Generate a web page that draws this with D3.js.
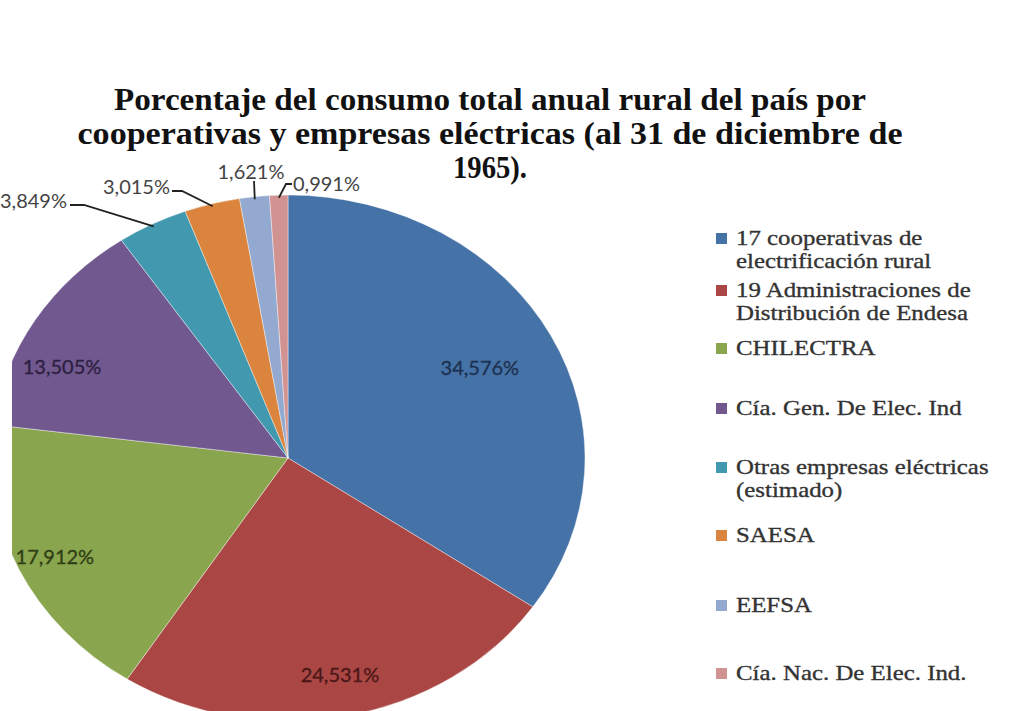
<!DOCTYPE html>
<html>
<head>
<meta charset="utf-8">
<script src="https://cdn.jsdelivr.net/npm/d3@7"></script>
<style>
  body { margin: 0; background: #fff; }
</style>
</head>
<body>
<div id="grafico"></div>
<script>
// Datos del gráfico
const categorias = [
  "17 cooperativas de electrificación rural",
  "19 Administraciones de Distribución de Endesa",
  "CHILECTRA",
  "Cía. Gen. De Elec. Ind",
  "Otras empresas eléctricas (estimado)",
  "SAESA",
  "EEFSA",
  "Cía. Nac. De Elec. Ind."
];
const porcentajes = [34.576, 24.531, 17.912, 13.505, 3.849, 3.015, 1.621, 0.991];
const lineasLeyenda = [
  ["17 cooperativas de", "electrificación rural"],
  ["19 Administraciones de", "Distribución de Endesa"],
  ["CHILECTRA"],
  ["Cía. Gen. De Elec. Ind"],
  ["Otras empresas eléctricas", "(estimado)"],
  ["SAESA"],
  ["EEFSA"],
  ["Cía. Nac. De Elec. Ind."]
];
const lineasTitulo = [
  "Porcentaje del consumo total anual rural del país por",
  "cooperativas y empresas eléctricas (al 31 de diciembre de",
  "1965)."
];

// Colores
const colores = ["#4572a7", "#aa4643", "#89a54e", "#71588f", "#4198af", "#db843d", "#93a9cf", "#d19392"];
const coloresTexto = ["#1d3150", "#4a1717", "#2f3d15", "#2c1f40"];

// Dimensiones
const ancho = 1035;
const alto = 711;
const centro = { x: 288, y: 458 };
const radioY = 263;
const radioX = 297;

const svg = d3.select("#grafico")
  .append("svg")
  .attr("width", ancho)
  .attr("height", alto);

// Título
svg.append("g")
  .selectAll("text")
  .data(lineasTitulo)
  .enter()
  .append("text")
  .attr("x", 490)
  .attr("y", (d, i) => 110 + i * 34)
  .attr("text-anchor", "middle")
  .attr("font-family", "'Liberation Serif', 'Times New Roman', serif")
  .attr("font-weight", "bold")
  .attr("font-size", "32px")
  .attr("fill", "#111")
  .attr("textLength", (d, i) => [752, 825, 74][i])
  .attr("lengthAdjust", "spacingAndGlyphs")
  .text(d => d);

// Torta
const torta = d3.pie().sort(null).value(d => d);
const arcos = torta(porcentajes);
const arco = d3.arc().innerRadius(0).outerRadius(radioY);

const grupoTorta = svg.append("g")
  .attr("transform", `translate(${centro.x},${centro.y}) scale(${radioX / radioY},1)`);

grupoTorta.selectAll("path")
  .data(arcos)
  .enter()
  .append("path")
  .attr("d", arco)
  .attr("fill", (d, i) => colores[i])
  .attr("stroke", "#fff")
  .attr("stroke-opacity", 0.5)
  .attr("stroke-width", 0.8)
  .attr("vector-effect", "non-scaling-stroke");

// Borde izquierdo recortado como en la imagen original
svg.append("rect")
  .attr("x", 0)
  .attr("y", 240)
  .attr("width", 12)
  .attr("height", alto - 240)
  .attr("fill", "#fff");

const formato = v => d3.format(".3f")(v).replace(".", ",") + "%";

// Punto sobre la elipse para un ángulo y radio relativo
const punto = (ang, r) => [
  centro.x + Math.sin(ang) * radioX * r,
  centro.y - Math.cos(ang) * radioY * r
];

// Etiquetas internas (posición relativa en la elipse)
const posInternas = [[0.646, -0.342], [0.175, 0.825], [-0.785, 0.376], [-0.761, -0.346]];
svg.append("g")
  .selectAll("text")
  .data(arcos.slice(0, 4))
  .enter()
  .append("text")
  .attr("x", (d, i) => centro.x + posInternas[i][0] * radioX)
  .attr("y", (d, i) => centro.y + posInternas[i][1] * radioY + 7)
  .attr("text-anchor", "middle")
  .attr("font-family", "Lato, 'Open Sans', sans-serif")
  .attr("font-size", "20px")
  .attr("fill", (d, i) => coloresTexto[i])
  .attr("stroke", (d, i) => coloresTexto[i])
  .attr("stroke-width", 0.3)
  .text(d => formato(d.data));

// Etiquetas externas con líneas guía
const guias = [
  { codo: [84, 205], fin: [70, 205], texto: [67, 201], ancla: "end" },
  { codo: [182, 191], fin: [172, 191], texto: [170, 187], ancla: "end" },
  { codo: null, fin: [254, 181], texto: [251, 172], ancla: "middle" },
  { codo: [286, 184], fin: [292, 184], texto: [293, 184], ancla: "start" }
];
const externas = arcos.slice(4).map((d, i) => ({ arco: d, guia: guias[i] }));

svg.append("g")
  .selectAll("path")
  .data(externas)
  .enter()
  .append("path")
  .attr("d", d => {
    const p = punto((d.arco.startAngle + d.arco.endAngle) / 2, 0.99);
    const pts = [p];
    if (d.guia.codo) pts.push(d.guia.codo);
    pts.push(d.guia.fin);
    return d3.line()(pts);
  })
  .attr("fill", "none")
  .attr("stroke", "#222")
  .attr("stroke-width", 1.8);

svg.append("g")
  .selectAll("text")
  .data(externas)
  .enter()
  .append("text")
  .attr("x", d => d.guia.texto[0])
  .attr("y", d => d.guia.texto[1] + 7)
  .attr("text-anchor", d => d.guia.ancla)
  .attr("font-family", "Lato, 'Open Sans', sans-serif")
  .attr("font-size", "20px")
  .attr("fill", "#444")
  .text(d => formato(d.arco.data));

// Leyenda
const leyendaY = [238, 290, 348, 408, 467, 535, 605, 673];
const leyenda = svg.append("g")
  .selectAll("g")
  .data(categorias)
  .enter()
  .append("g")
  .attr("transform", (d, i) => `translate(716,${leyendaY[i]})`);

leyenda.append("rect")
  .attr("x", 0)
  .attr("y", -5)
  .attr("width", 11)
  .attr("height", 11)
  .attr("fill", (d, i) => colores[i]);

leyenda.append("g")
  .attr("transform", "translate(20,0) scale(1.13,1)")
  .selectAll("text")
  .data((d, i) => lineasLeyenda[i])
  .enter()
  .append("text")
  .attr("x", 0)
  .attr("y", (d, j) => 7 + j * 23)
  .attr("font-family", "'Liberation Serif', 'Times New Roman', serif")
  .attr("font-size", "22px")
  .attr("fill", "#333")
  .attr("stroke", "#333")
  .attr("stroke-width", 0.35)
  .text(d => d);
</script>
</body>
</html>
